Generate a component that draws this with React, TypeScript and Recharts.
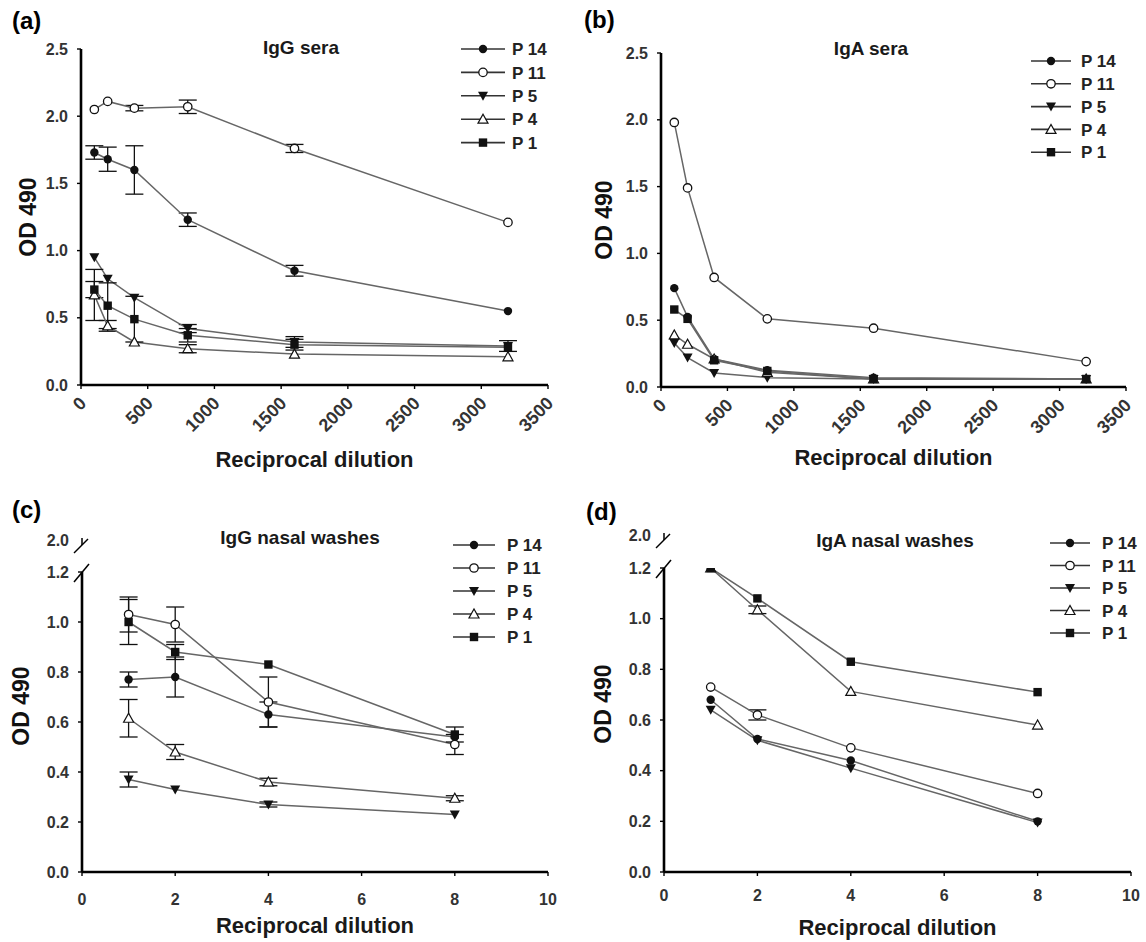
import React from 'react'
import { LineChart, Line, XAxis, YAxis, ErrorBar, Legend } from 'recharts'

const FONT = '"Liberation Sans", Arial, Helvetica, sans-serif'
const INK = '#111'
const LINE_GREY = '#666'
const TICK_GREY = '#333'

// series (same order in every panel)
const seriesNames = ['P 14', 'P 11', 'P 5', 'P 4', 'P 1']
const seriesKeys = ['p14', 'p11', 'p5', 'p4', 'p1']
type Shape = 'dot' | 'ring' | 'down' | 'up' | 'square'
const seriesShapes: Shape[] = ['dot', 'ring', 'down', 'up', 'square']

// x values / ticks
const seraDilutions = [100, 200, 400, 800, 1600, 3200]
const washDilutions = [1, 2, 4, 8]
const seraXTicks = [0, 500, 1000, 1500, 2000, 2500, 3000, 3500]
const washXTicks = [0, 2, 4, 6, 8, 10]
const seraYTicks = [0, 0.5, 1, 1.5, 2, 2.5]
const washYTicks = [0, 0.2, 0.4, 0.6, 0.8, 1.0, 1.2]

// (a) IgG sera
const iggSeraP14 = [1.73, 1.68, 1.6, 1.23, 0.85, 0.55]
const iggSeraP14Err = [0.05, 0.09, 0.18, 0.05, 0.04, 0]
const iggSeraP11 = [2.05, 2.11, 2.06, 2.07, 1.76, 1.21]
const iggSeraP11Err = [0, 0, 0.02, 0.05, 0.03, 0]
const iggSeraP5 = [0.95, 0.79, 0.65, 0.42, 0.32, 0.29]
const iggSeraP5Err = [0, 0, 0, 0.03, 0.04, 0.04]
const iggSeraP4 = [0.67, 0.44, 0.32, 0.27, 0.23, 0.21]
const iggSeraP4Err = [0.19, 0.04, 0, 0.03, 0, 0]
const iggSeraP1 = [0.71, 0.59, 0.49, 0.37, 0.3, 0.28]
const iggSeraP1Err = [0.06, 0.17, 0.17, 0.05, 0.04, 0]

// (b) IgA sera
const igaSeraP14 = [0.74, 0.525, 0.21, 0.125, 0.07, 0.06]
const igaSeraP11 = [1.98, 1.49, 0.82, 0.51, 0.44, 0.19]
const igaSeraP5 = [0.33, 0.22, 0.105, 0.07, 0.06, 0.06]
const igaSeraP4 = [0.39, 0.32, 0.21, 0.11, 0.06, 0.06]
const igaSeraP1 = [0.58, 0.51, 0.2, 0.12, 0.06, 0.06]
const igaSeraErr = [0, 0, 0, 0, 0, 0]

// (c) IgG nasal washes
const iggNasalP14 = [0.77, 0.78, 0.63, 0.54]
const iggNasalP14Err = [0.03, 0.08, 0.05, 0]
const iggNasalP11 = [1.03, 0.99, 0.68, 0.51]
const iggNasalP11Err = [0.07, 0.07, 0.1, 0.04]
const iggNasalP5 = [0.37, 0.33, 0.27, 0.23]
const iggNasalP5Err = [0.03, 0, 0.01, 0]
const iggNasalP4 = [0.615, 0.48, 0.36, 0.295]
const iggNasalP4Err = [0.075, 0.03, 0.015, 0.01]
const iggNasalP1 = [1.0, 0.88, 0.83, 0.55]
const iggNasalP1Err = [0.09, 0.03, 0, 0.03]

// (d) IgA nasal washes
const igaNasalP14 = [0.68, 0.525, 0.44, 0.2]
const igaNasalP11 = [0.73, 0.62, 0.49, 0.31]
const igaNasalP11Err = [0, 0.02, 0, 0]
const igaNasalP5 = [0.64, 0.52, 0.41, 0.195]
const igaNasalP4 = [1.2, 1.035, 0.713, 0.58]
const igaNasalP4Err = [0, 0.015, 0, 0]
const igaNasalP1 = [1.2, 1.08, 0.83, 0.71]
const igaNasalNoErr = [0, 0, 0, 0]

function buildRows(xs: number[], values: number[][], errors: number[][]) {
  return xs.map((x, i) => {
    const row: Record<string, number> = { x }
    seriesKeys.forEach((k, s) => {
      row[k] = values[s][i]
      row[k + 'Err'] = errors[s][i]
    })
    return row
  })
}

function Marker({ cx, cy, shape }: { cx: number; cy: number; shape: Shape }) {
  const r = 4.2
  if (shape === 'dot') return <circle cx={cx} cy={cy} r={r} fill={INK} />
  if (shape === 'ring') return <circle cx={cx} cy={cy} r={r} fill="#fff" stroke={INK} strokeWidth={1.3} />
  if (shape === 'square') return <rect x={cx - r} y={cy - r} width={2 * r} height={2 * r} fill={INK} />
  if (shape === 'down')
    return <polygon points={`${cx - 5},${cy - 4} ${cx + 5},${cy - 4} ${cx},${cy + 5}`} fill={INK} />
  return (
    <polygon
      points={`${cx - 5},${cy + 4} ${cx + 5},${cy + 4} ${cx},${cy - 5}`}
      fill="#fff"
      stroke={INK}
      strokeWidth={1.2}
    />
  )
}

const tickText = { fontFamily: FONT, fontSize: 16, fontWeight: 700, fill: TICK_GREY }

const RotatedTick = (props: any) => {
  const { x, y, payload } = props
  const px = x + 2
  const py = y + 9
  return (
    <text
      x={px}
      y={py}
      dy="0.35em"
      textAnchor="end"
      transform={`rotate(-45 ${px} ${py})`}
      {...tickText}
      fontSize={18}
    >
      {payload.value}
    </text>
  )
}

const makeFlatTick = (gap: number) => (props: any) => {
  const { x, y, payload } = props
  return (
    <text x={x} y={y + gap} dy="0.35em" textAnchor="middle" {...tickText}>
      {payload.value}
    </text>
  )
}

type LegendSpec = { left: number; top: number; rowH: number; lineLen: number; textGap: number }

function LegendBox({ spec }: { spec: LegendSpec }) {
  return (
    <svg width={140} height={spec.rowH * 5 + 12} style={{ display: 'block' }}>
      {seriesNames.map((name, i) => {
        const y = 8 + i * spec.rowH
        return (
          <g key={name}>
            <line x1={0} x2={spec.lineLen} y1={y} y2={y} stroke="#333" strokeWidth={1.6} />
            <Marker cx={spec.lineLen / 2} cy={y} shape={seriesShapes[i]} />
            <text x={spec.textGap} y={y} dy="0.36em" fontFamily={FONT} fontSize={17} fontWeight={700} fill="#222">
              {name}
            </text>
          </g>
        )
      })}
    </svg>
  )
}

type PanelProps = {
  left: number
  top: number
  width: number
  height: number
  margin: { top: number; right: number; bottom: number; left: number }
  yAxisWidth: number
  xAxisHeight: number
  rows: Record<string, number>[]
  xDomain: [number, number]
  xTicks: number[]
  yDomain: [number, number]
  yTicks: number[]
  rotated: boolean
  flatGap?: number
  yLabelShift: number
  letter: string
  letterPos: [number, number]
  title: string
  titlePos: [number, number]
  legend: LegendSpec
  broken?: { topLabelY: number }
}

function Panel(p: PanelProps) {
  const axisX = p.margin.left + p.yAxisWidth
  const plotTop = p.margin.top
  return (
    <div style={{ position: 'absolute', left: p.left, top: p.top, width: p.width, height: p.height }}>
      <LineChart width={p.width} height={p.height} data={p.rows} margin={p.margin}>
        <XAxis
          type="number"
          dataKey="x"
          domain={p.xDomain}
          ticks={p.xTicks}
          interval={0}
          allowDataOverflow
          height={p.xAxisHeight}
          axisLine={{ stroke: '#000', strokeWidth: 2.6 }}
          tickLine={{ stroke: '#000', strokeWidth: 1.4 }}
          tickSize={4}
          tick={p.rotated ? RotatedTick : makeFlatTick(p.flatGap ?? 20)}
          label={{
            value: 'Reciprocal dilution',
            position: 'insideBottom',
            offset: 0,
            fontFamily: FONT,
            fontSize: 22,
            fontWeight: 700,
            fill: '#1a1a1a',
          }}
        />
        <YAxis
          type="number"
          domain={p.yDomain}
          ticks={p.yTicks}
          interval={0}
          allowDataOverflow
          width={p.yAxisWidth}
          axisLine={{ stroke: '#000', strokeWidth: 2.6 }}
          tickLine={{ stroke: '#000', strokeWidth: 1.4 }}
          tickSize={4}
          tickMargin={9}
          tickFormatter={(v: number) => v.toFixed(1)}
          tick={tickText}
          label={{
            value: 'OD 490',
            angle: -90,
            position: 'insideLeft',
            offset: 5,
            dy: p.yLabelShift,
            style: { textAnchor: 'middle' },
            fontFamily: FONT,
            fontSize: 23,
            fontWeight: 700,
            fill: '#111',
          }}
        />
        <Legend
          layout="vertical"
          align="center"
          verticalAlign="middle"
          wrapperStyle={{ left: p.legend.left, top: p.legend.top - 8, width: 140 }}
          content={() => <LegendBox spec={p.legend} />}
        />
        {seriesKeys.map((k, s) => (
          <Line
            key={k}
            dataKey={k}
            name={seriesNames[s]}
            type="linear"
            stroke={LINE_GREY}
            strokeWidth={1.5}
            isAnimationActive={false}
            activeDot={false}
            dot={(d: any) =>
              d.cx == null || d.cy == null ? (
                <g key={`${k}-${d.index}`} />
              ) : (
                <Marker key={`${k}-${d.index}`} cx={d.cx} cy={d.cy} shape={seriesShapes[s]} />
              )
            }
          >
            <ErrorBar dataKey={k + 'Err'} width={9} stroke={INK} strokeWidth={1.3} direction="y" />
          </Line>
        ))}
      </LineChart>

      <div
        style={{
          position: 'absolute',
          left: p.letterPos[0],
          top: p.letterPos[1],
          transform: 'translateY(-50%)',
          fontFamily: FONT,
          fontWeight: 700,
          fontSize: 24,
          lineHeight: 1,
          color: '#000',
        }}
      >
        {p.letter}
      </div>
      <div
        style={{
          position: 'absolute',
          left: p.titlePos[0],
          top: p.titlePos[1],
          transform: 'translate(-50%, -50%)',
          fontFamily: FONT,
          fontWeight: 700,
          fontSize: 19,
          lineHeight: 1,
          whiteSpace: 'nowrap',
          color: '#1a1a1a',
        }}
      >
        {p.title}
      </div>

      {p.broken && (
        <svg
          width={p.width}
          height={p.height}
          style={{ position: 'absolute', left: 0, top: 0, pointerEvents: 'none' }}
        >
          <line x1={axisX - 8} y1={plotTop + 10} x2={axisX + 7} y2={plotTop - 8} stroke="#000" strokeWidth={1.5} />
          <line
            x1={axisX - 8}
            y1={p.broken.topLabelY + 13}
            x2={axisX + 6}
            y2={p.broken.topLabelY - 1}
            stroke="#000"
            strokeWidth={1.5}
          />
          <line
            x1={axisX}
            y1={p.broken.topLabelY - 2}
            x2={axisX}
            y2={p.broken.topLabelY + 5}
            stroke="#000"
            strokeWidth={1.5}
          />
          <text x={axisX - 13} y={p.broken.topLabelY} dy="0.35em" textAnchor="end" {...tickText}>
            2.0
          </text>
        </svg>
      )}
    </div>
  )
}

const rowsA = buildRows(
  seraDilutions,
  [iggSeraP14, iggSeraP11, iggSeraP5, iggSeraP4, iggSeraP1],
  [iggSeraP14Err, iggSeraP11Err, iggSeraP5Err, iggSeraP4Err, iggSeraP1Err]
)
const rowsB = buildRows(
  seraDilutions,
  [igaSeraP14, igaSeraP11, igaSeraP5, igaSeraP4, igaSeraP1],
  [igaSeraErr, igaSeraErr, igaSeraErr, igaSeraErr, igaSeraErr]
)
const rowsC = buildRows(
  washDilutions,
  [iggNasalP14, iggNasalP11, iggNasalP5, iggNasalP4, iggNasalP1],
  [iggNasalP14Err, iggNasalP11Err, iggNasalP5Err, iggNasalP4Err, iggNasalP1Err]
)
const rowsD = buildRows(
  washDilutions,
  [igaNasalP14, igaNasalP11, igaNasalP5, igaNasalP4, igaNasalP1],
  [igaNasalNoErr, igaNasalP11Err, igaNasalNoErr, igaNasalP4Err, igaNasalNoErr]
)

export default function App() {
  return (
    <div style={{ position: 'absolute', left: 0, top: 0, width: 1146, height: 942, background: '#fff' }}>
      <Panel
        left={0}
        top={0}
        width={560}
        height={480}
        margin={{ top: 49, right: 12, bottom: 13, left: 23 }}
        yAxisWidth={58}
        xAxisHeight={82}
        rows={rowsA}
        xDomain={[0, 3500]}
        xTicks={seraXTicks}
        yDomain={[0, 2.5]}
        yTicks={seraYTicks}
        rotated
        yLabelShift={0}
        letter="(a)"
        letterPos={[12, 21]}
        title="IgG sera"
        titlePos={[301, 47]}
        legend={{ left: 461, top: 49, rowH: 23.4, lineLen: 44, textGap: 51 }}
      />
      <Panel
        left={560}
        top={0}
        width={586}
        height={480}
        margin={{ top: 53, right: 20, bottom: 15, left: 39 }}
        yAxisWidth={62}
        xAxisHeight={78}
        rows={rowsB}
        xDomain={[0, 3500]}
        xTicks={seraXTicks}
        yDomain={[0, 2.5]}
        yTicks={seraYTicks}
        rotated
        yLabelShift={0}
        letter="(b)"
        letterPos={[24, 20]}
        title="IgA sera"
        titlePos={[311, 48]}
        legend={{ left: 471, top: 61, rowH: 22.8, lineLen: 40, textGap: 50 }}
      />
      <Panel
        left={0}
        top={440}
        width={560}
        height={502}
        margin={{ top: 132, right: 12, bottom: 9, left: 16 }}
        yAxisWidth={66}
        xAxisHeight={61}
        rows={rowsC}
        xDomain={[0, 10]}
        xTicks={washXTicks}
        yDomain={[0, 1.2]}
        yTicks={washYTicks}
        rotated={false}
        flatGap={21}
        yLabelShift={-16}
        letter="(c)"
        letterPos={[12, 70]}
        title="IgG nasal washes"
        titlePos={[300, 97]}
        legend={{ left: 453, top: 105, rowH: 23, lineLen: 42, textGap: 54 }}
        broken={{ topLabelY: 100 }}
      />
      <Panel
        left={560}
        top={440}
        width={586}
        height={502}
        margin={{ top: 128, right: 15, bottom: 7, left: 38 }}
        yAxisWidth={66}
        xAxisHeight={63}
        rows={rowsD}
        xDomain={[0, 10]}
        xTicks={washXTicks}
        yDomain={[0, 1.2]}
        yTicks={washYTicks}
        rotated={false}
        flatGap={17}
        yLabelShift={-16}
        letter="(d)"
        letterPos={[26, 72]}
        title="IgA nasal washes"
        titlePos={[335, 100]}
        legend={{ left: 490, top: 103, rowH: 22.5, lineLen: 40, textGap: 52 }}
        broken={{ topLabelY: 95 }}
      />
    </div>
  )
}
